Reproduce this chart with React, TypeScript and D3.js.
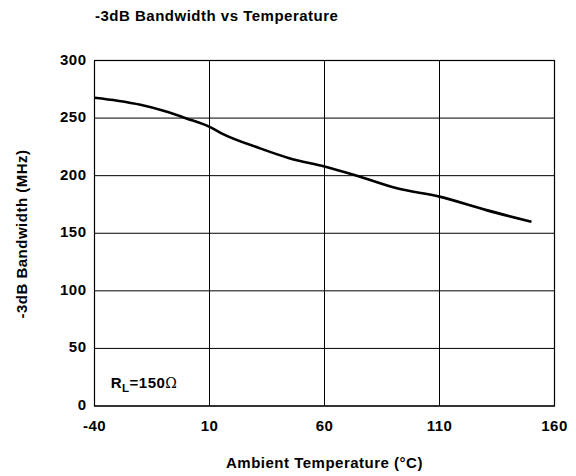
import React from "react";
import * as d3 from "d3";

const temps = [-40, -30, -20, -10, 0, 10, 15, 32, 45, 60, 73, 91.5, 110, 130, 150];
const bandwidth = [267.6, 265, 261.5, 256.3, 249.7, 242.4, 237, 223.7, 215, 208, 200.6, 189, 181.8, 170.3, 160];
const xTicks = [-40, 10, 60, 110, 160];
const yTicks = [0, 50, 100, 150, 200, 250, 300];

const W = 576;
const H = 476;
const M = { left: 94.5, right: 554.5, top: 60.5, bottom: 406 };

export default function App() {
  const x = d3.scaleLinear().domain([-40, 160]).range([M.left, M.right]);
  const y = d3.scaleLinear().domain([0, 300]).range([M.bottom, M.top]);
  const line = d3
    .line<number>()
    .x((_, i) => x(temps[i]))
    .y((d) => y(d))
    .curve(d3.curveMonotoneX);
  const font = "Liberation Sans, Arial, Helvetica, sans-serif";
  const fs = 15;
  const ls = 0.5;
  return (
    <svg
      width={W}
      height={H}
      style={{ position: "absolute", left: 0, top: 0, background: "#fff" }}
      fontFamily={font}
      fontWeight="bold"
    >
      <text x={95} y={21} fontSize={fs} letterSpacing={ls}>
        -3dB Bandwidth vs Temperature
      </text>
      {yTicks.map((t) => (
        <line key={"gy" + t} x1={M.left} x2={M.right} y1={y(t)} y2={y(t)} stroke="#000" strokeWidth={1} />
      ))}
      {xTicks.map((t) => (
        <line key={"gx" + t} x1={x(t)} x2={x(t)} y1={M.top} y2={M.bottom} stroke="#000" strokeWidth={1} />
      ))}
      <rect x={M.left} y={M.top} width={M.right - M.left} height={M.bottom - M.top} fill="none" stroke="#000" strokeWidth={1.2} />
      <path d={line(bandwidth) || ""} fill="none" stroke="#000" strokeWidth={2.6} />
      {yTicks.map((t) => (
        <text key={"ty" + t} x={86.5} y={y(t) + 4} fontSize={fs} letterSpacing={ls} textAnchor="end">
          {t}
        </text>
      ))}
      {xTicks.map((t) => (
        <text key={"tx" + t} x={x(t)} y={431} fontSize={fs} letterSpacing={ls} textAnchor="middle">
          {t}
        </text>
      ))}
      <text x={324.5} y={468} fontSize={fs} letterSpacing={ls} textAnchor="middle">
        Ambient Temperature (°C)
      </text>
      <text
        transform="translate(27,234) rotate(-90)"
        fontSize={fs}
        letterSpacing={ls}
        textAnchor="middle"
      >
        -3dB Bandwidth (MHz)
      </text>
      <text x={110.7} y={388.3} fontSize={fs} letterSpacing={ls}>
        R
        <tspan fontSize={11.5} dy={3.5}>L</tspan>
        <tspan dy={-3.5}>=150</tspan>
        <tspan fontFamily="DejaVu Serif, Liberation Serif, serif" fontWeight="normal" fontSize={14}>Ω</tspan>
      </text>
    </svg>
  );
}
